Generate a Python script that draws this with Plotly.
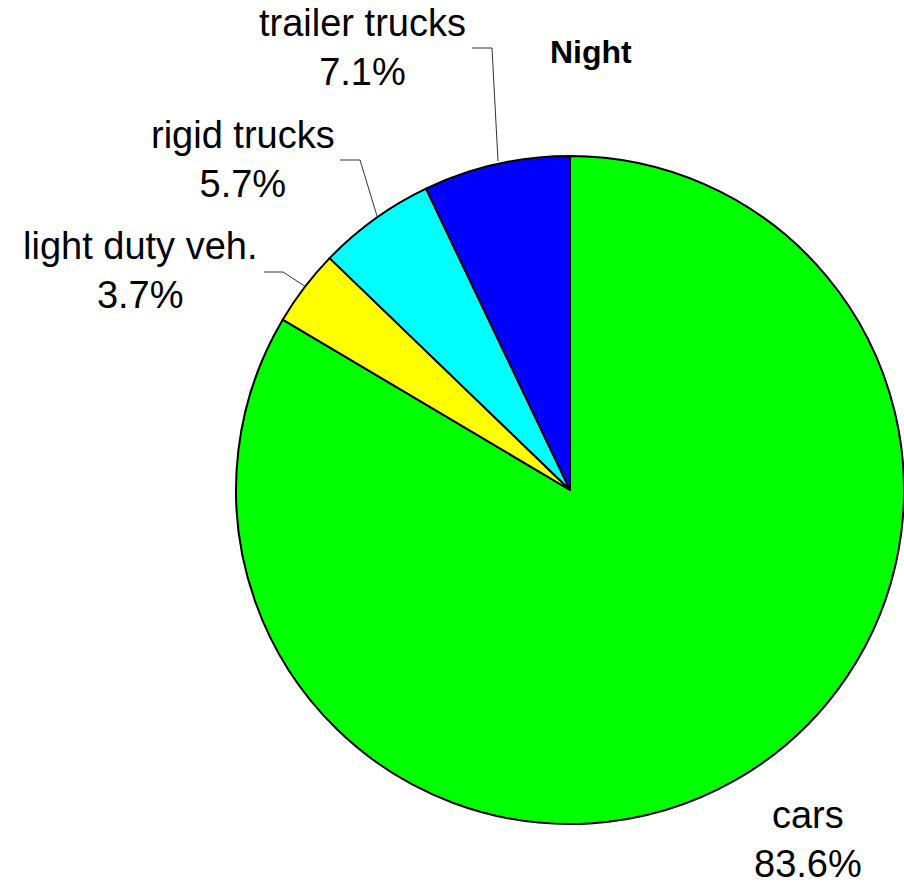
import plotly.graph_objects as go

categories = ["cars", "light duty veh.", "rigid trucks", "trailer trucks"]
shares = [83.6, 3.7, 5.7, 7.1]
colors = ["#00FF00", "#FFFF00", "#00FFFF", "#0000FF"]
title_text = "Night"

W, H = 904, 884

def px(x):
    return x / W

def py(y):
    return 1 - y / H

fig = go.Figure()
fig.add_trace(go.Pie(
    labels=categories,
    values=shares,
    sort=False,
    direction="clockwise",
    rotation=0,
    textinfo="none",
    hoverinfo="label+percent",
    marker=dict(colors=colors, line=dict(color="black", width=2)),
    domain=dict(x=[px(236), 1.0], y=[py(825), py(155)]),
    showlegend=False,
))

# label placements (pixel centers) for each category
label_pos = {
    "cars": (808, 839),
    "light duty veh.": (140, 270),
    "rigid trucks": (243, 159),
    "trailer trucks": (362, 47),
}
for cat, val in zip(categories, shares):
    x, y = label_pos[cat]
    fig.add_annotation(
        x=px(x), y=py(y), xref="paper", yref="paper",
        text=f"{cat}<br>{val}%", showarrow=False,
        xanchor="center", yanchor="middle",
        font=dict(family="Liberation Sans, Arial, sans-serif", size=38, color="black"),
    )

# leader lines (elbow)
leaders = [
    [(472, 48), (492, 48), (498, 161)],
    [(340, 160), (360, 160), (377, 216)],
    [(264, 272), (283, 272), (306, 287)],
]
for pts in leaders:
    path = "M " + " L ".join(f"{px(x)},{py(y)}" for x, y in pts)
    fig.add_shape(type="path", path=path, xref="paper", yref="paper",
                  line=dict(color="#333333", width=1))

fig.add_annotation(
    x=px(591), y=py(52), xref="paper", yref="paper",
    text=f"<b>{title_text}</b>", showarrow=False,
    xanchor="center", yanchor="middle",
    font=dict(family="Liberation Sans, Arial, sans-serif", size=32, color="black"),
)

fig.update_layout(
    width=W, height=H,
    margin=dict(l=0, r=0, t=0, b=0),
    paper_bgcolor="white", plot_bgcolor="white",
)

fig.write_html("out.html", config={"displayModeBar": False},
               post_script="document.body.style.margin='0';")
